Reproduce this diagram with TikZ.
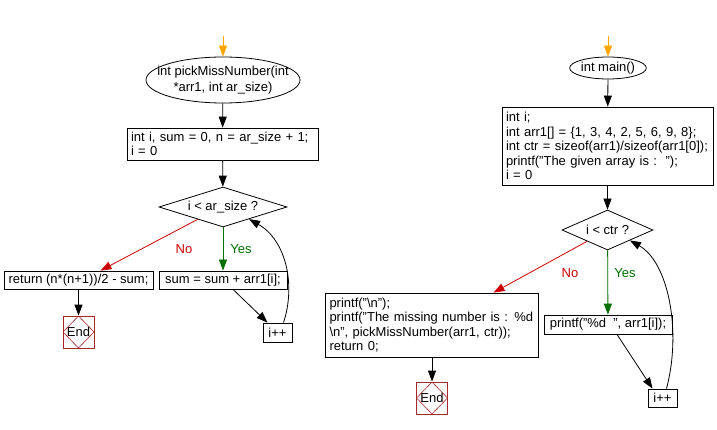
\documentclass[tikz,border=0pt]{standalone}
\usepackage{fontspec}
\setmainfont{Liberation Sans}
\usetikzlibrary{arrows.meta,shapes.geometric}
\definecolor{startorange}{RGB}{255,165,0}
\definecolor{noRed}{RGB}{204,0,0}
\definecolor{yesGreen}{RGB}{0,110,0}
\definecolor{endRed}{RGB}{165,40,40}

\begin{document}
\begin{tikzpicture}[x=1pt, y=-1pt, line width=0.8pt,
    font=\fontsize{13}{14.5}\selectfont,
    >={Triangle[length=11pt,width=8pt]},
    term/.style={draw, ellipse, inner sep=0pt},
    proc/.style={draw, rectangle, inner sep=0pt, align=left},
    cond/.style={draw, diamond, inner sep=0pt, aspect=3},
    stop/.style={draw=endRed, rectangle, minimum width=31pt, minimum height=32pt, inner sep=0pt,
        path picture={\draw[endRed, line width=0.6pt] (path picture bounding box.north) -- (path picture bounding box.east)
            -- (path picture bounding box.south) -- (path picture bounding box.west) -- cycle;}},
    nolink/.style={noRed},
    yeslink/.style={yesGreen}]
        \useasboundingbox (0,0) rectangle (717,430);

        % Function pickMissNumber
        \coordinate (startL) at (223,36);
        \node[term, minimum width=154pt, minimum height=46pt] (pick) at (223,80) {};
        \node[align=center, font=\fontsize{13}{16}\selectfont] (pickText) at (pick) {int pickMissNumber(int\\{}*arr1, int ar\_size)};
        \node[proc, minimum width=191pt, minimum height=32pt, text width=183pt] (init) at (222.5,144) {int i, sum = 0, n = ar\_size + 1;\\ i = 0};
        \node[cond, minimum width=128pt, minimum height=40pt] (test) at (223,207) {i < ar\_size ?};
        \node[proc, minimum width=149pt, minimum height=18pt] (ret) at (78.5,280) {return (n*(n+1))/2 - sum;};
        \node[proc, minimum width=128pt, minimum height=18pt] (acc) at (223,280) {sum = sum + arr1[i];};
        \node[stop] (endL) at (78.5,332) {End};
        \node[proc, minimum width=29pt, minimum height=19pt] (incL) at (277.5,332.5) {i++};

        \draw[->, startorange] (startL) -- (pick);
        \draw[->] (pick) -- (init);
        \draw[->] (init) -- (test);
        \draw[->, nolink] (test.-154) -- ([xshift=22pt]ret.north);
        \draw[->, yeslink] (test) -- (acc);
        \draw[->] (ret.south) -- (endL.north);
        \draw[->] ([xshift=10pt]acc.south) -- ([xshift=-10pt]incL.north);
        \draw[->] ([xshift=6pt]incL.north) .. controls (296,285) and (286,240) .. (test.-25);
        \node[nolink] (noL) at (184,249) {No};
        \node[yeslink] (yesL) at (241,249) {Yes};

        % Function main
        \coordinate (startR) at (608,36);
        \node[term, minimum width=72pt, minimum height=22pt] (main) at (608,68) {int main()};
        \node[proc, minimum width=211pt, minimum height=78pt, text width=203pt] (decl) at (607.5,146) {int i;\\ int arr1[] = \{1, 3, 4, 2, 5, 6, 9, 8\};\\ int ctr = sizeof(arr1)/sizeof(arr1[0]);\\ printf("The given array is :\ \ ");\\ i = 0};
        \node[cond, minimum width=91pt, minimum height=40pt] (loop) at (607.5,230) {i < ctr ?};
        \node[proc, minimum width=213pt, minimum height=64pt, text width=205pt] (report) at (432,325) {printf("\textbackslash n");\\ printf("The missing number is : \%d\\ \textbackslash n", pickMissNumber(arr1, ctr));\\ return 0;};
        \node[proc, minimum width=128pt, minimum height=19pt] (show) at (608,324.5) {printf("\%d\ \ ", arr1[i]);};
        \node[stop] (endR) at (432,398) {End};
        \node[proc, minimum width=29pt, minimum height=18pt] (incR) at (662.5,398) {i++};

        \draw[->, startorange] (startR) -- (main);
        \draw[->] (main) -- (decl);
        \draw[->] (decl) -- (loop);
        \draw[->, nolink] (loop.-151) -- ([xshift=61.5pt]report.north);
        \draw[->, yeslink] (loop) -- (show);
        \draw[->] (report.south) -- (endR.north);
        \draw[->] ([xshift=9pt]show.south) -- ([xshift=-10pt]incR.north);
        \draw[->] ([xshift=4pt]incR.north) .. controls (682,330) and (668,262) .. (loop.-25);
        \node[nolink] (noR) at (570,273) {No};
        \node[yeslink] (yesR) at (625,273) {Yes};
    \end{tikzpicture}
\end{document}
